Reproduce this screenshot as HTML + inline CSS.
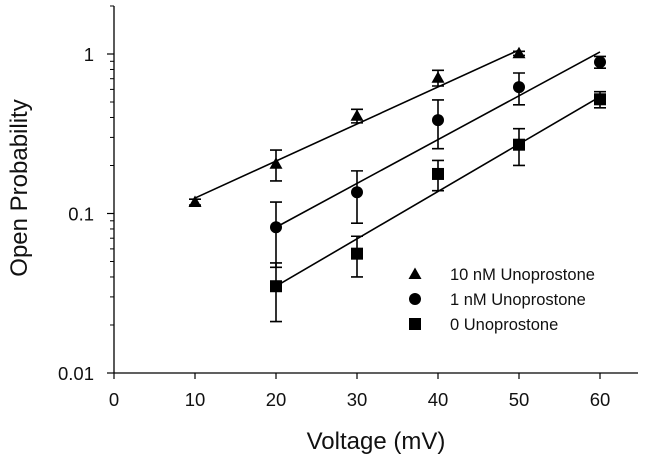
<!DOCTYPE html>
<html><head><meta charset="utf-8"><style>
html,body{margin:0;padding:0;background:#fff;}
svg{display:block;font-family:"Liberation Sans",Arial,sans-serif;}
</style></head><body>
<svg id="chart" width="645" height="467" viewBox="0 0 645 467"></svg>
<script>
const xTicks=[0,10,20,30,40,50,60];
const yTicks=[0.01,0.1,1];
const yTickLabels=["0.01","0.1","1"];
const seriesNames=["10 nM Unoprostone","1 nM Unoprostone","0 Unoprostone"];
const triX=[10,20,30,40,50];
const triY=[0.118,0.205,0.41,0.71,1.01];
const triErr=[0.005,0.045,0.04,0.08,0.03];
const cirX=[20,30,40,50,60];
const cirY=[0.082,0.136,0.385,0.62,0.89];
const cirErr=[0.036,0.049,0.13,0.14,0.075];
const sqX=[20,30,40,50,60];
const sqY=[0.035,0.056,0.177,0.27,0.52];
const sqErr=[0.014,0.016,0.038,0.07,0.06];
const triFit=[10,0.125,50,1.06];
const cirFit=[20,0.082,60,1.03];
const sqFit=[20,0.035,60,0.54];

const NS="http://www.w3.org/2000/svg";
const svg=document.getElementById('chart');
const X0=114,XS=8.1,YTOP=54,YD=159.5;
const xs=v=>X0+v*XS;
const ys=v=>YTOP-Math.log10(v)*YD;
function mk(t,a,p){const e=document.createElementNS(NS,t);for(const k in a)e.setAttribute(k,a[k]);(p||svg).appendChild(e);return e;}
const S='#000';
let e=mk('line',{x1:X0,y1:6,x2:X0,y2:373,stroke:S,'stroke-width':1.3});

e=mk('line',{x1:X0,y1:373,x2:638,y2:373,stroke:S,'stroke-width':1.3});

xTicks.forEach(v=>{
 let t=mk('line',{x1:xs(v),y1:373,x2:xs(v),y2:379,stroke:S,'stroke-width':1.2});
 
 let l=mk('text',{x:xs(v),y:406,'text-anchor':'middle','font-size':18.5,fill:'#111'});l.textContent=v;
 
});
yTicks.forEach((v,i)=>{
 let t=mk('line',{x1:X0-7,y1:ys(v),x2:X0,y2:ys(v),stroke:S,'stroke-width':1.2});
 
 let l=mk('text',{x:X0-20,y:ys(v)+7,'text-anchor':'end','font-size':18.5,fill:'#111'});l.textContent=yTickLabels[i];
 
});
[0.01,0.1,1].forEach(d=>{for(let m=2;m<=9;m++){const v=d*m;if(v>2)break;
 let t=mk('line',{x1:X0-4,y1:ys(v),x2:X0,y2:ys(v),stroke:S,'stroke-width':1});
 }});
e=mk('text',{x:376,y:449,'text-anchor':'middle','font-size':24,fill:'#111'});e.textContent='Voltage (mV)';

e=mk('text',{x:0,y:0,'text-anchor':'middle','font-size':24,fill:'#111',transform:'translate(27,188) rotate(-90)'});e.textContent='Open Probability';


function marker(shape,cx,cy,p){
 if(shape==='tri')return mk('polygon',{points:`${cx-6.5},${cy+5} ${cx+6.5},${cy+5} ${cx},${cy-6.5}`,fill:S},p);
 if(shape==='cir')return mk('circle',{cx,cy,r:6,fill:S},p);
 return mk('rect',{x:cx-6,y:cy-6,width:12,height:12,fill:S},p);
}
function series(name,shape,X,Y,E,F){
 const g=mk('g',{});
 
 let fl=mk('line',{x1:xs(F[0]),y1:ys(F[1]),x2:xs(F[2]),y2:ys(F[3]),stroke:S,'stroke-width':1.6},g);
 
 X.forEach((x,i)=>{
  const cx=xs(x),top=ys(Y[i]+E[i]),bot=ys(Math.max(Y[i]-E[i],0.001));
  let eb=mk('path',{d:`M${cx},${top}V${bot}M${cx-6},${top}H${cx+6}M${cx-6},${bot}H${cx+6}`,stroke:S,'stroke-width':1.6,fill:'none'},g);
  
  let m=marker(shape,cx,ys(Y[i]),g);
  
 });
}
series('10nm','tri',triX,triY,triErr,triFit);
series('1nm','cir',cirX,cirY,cirErr,cirFit);
series('0nm','sq',sqX,sqY,sqErr,sqFit);
const lg=mk('g',{});

['tri','cir','sq'].forEach((s,i)=>{
 const cy=274+i*25;
 const g=mk('g',{},lg);
 
 marker(s,415,cy,g);
 let t=mk('text',{x:450,y:cy+6,'font-size':16.5,fill:'#111'},g);t.textContent=seriesNames[i];
});
</script>
</body></html>
